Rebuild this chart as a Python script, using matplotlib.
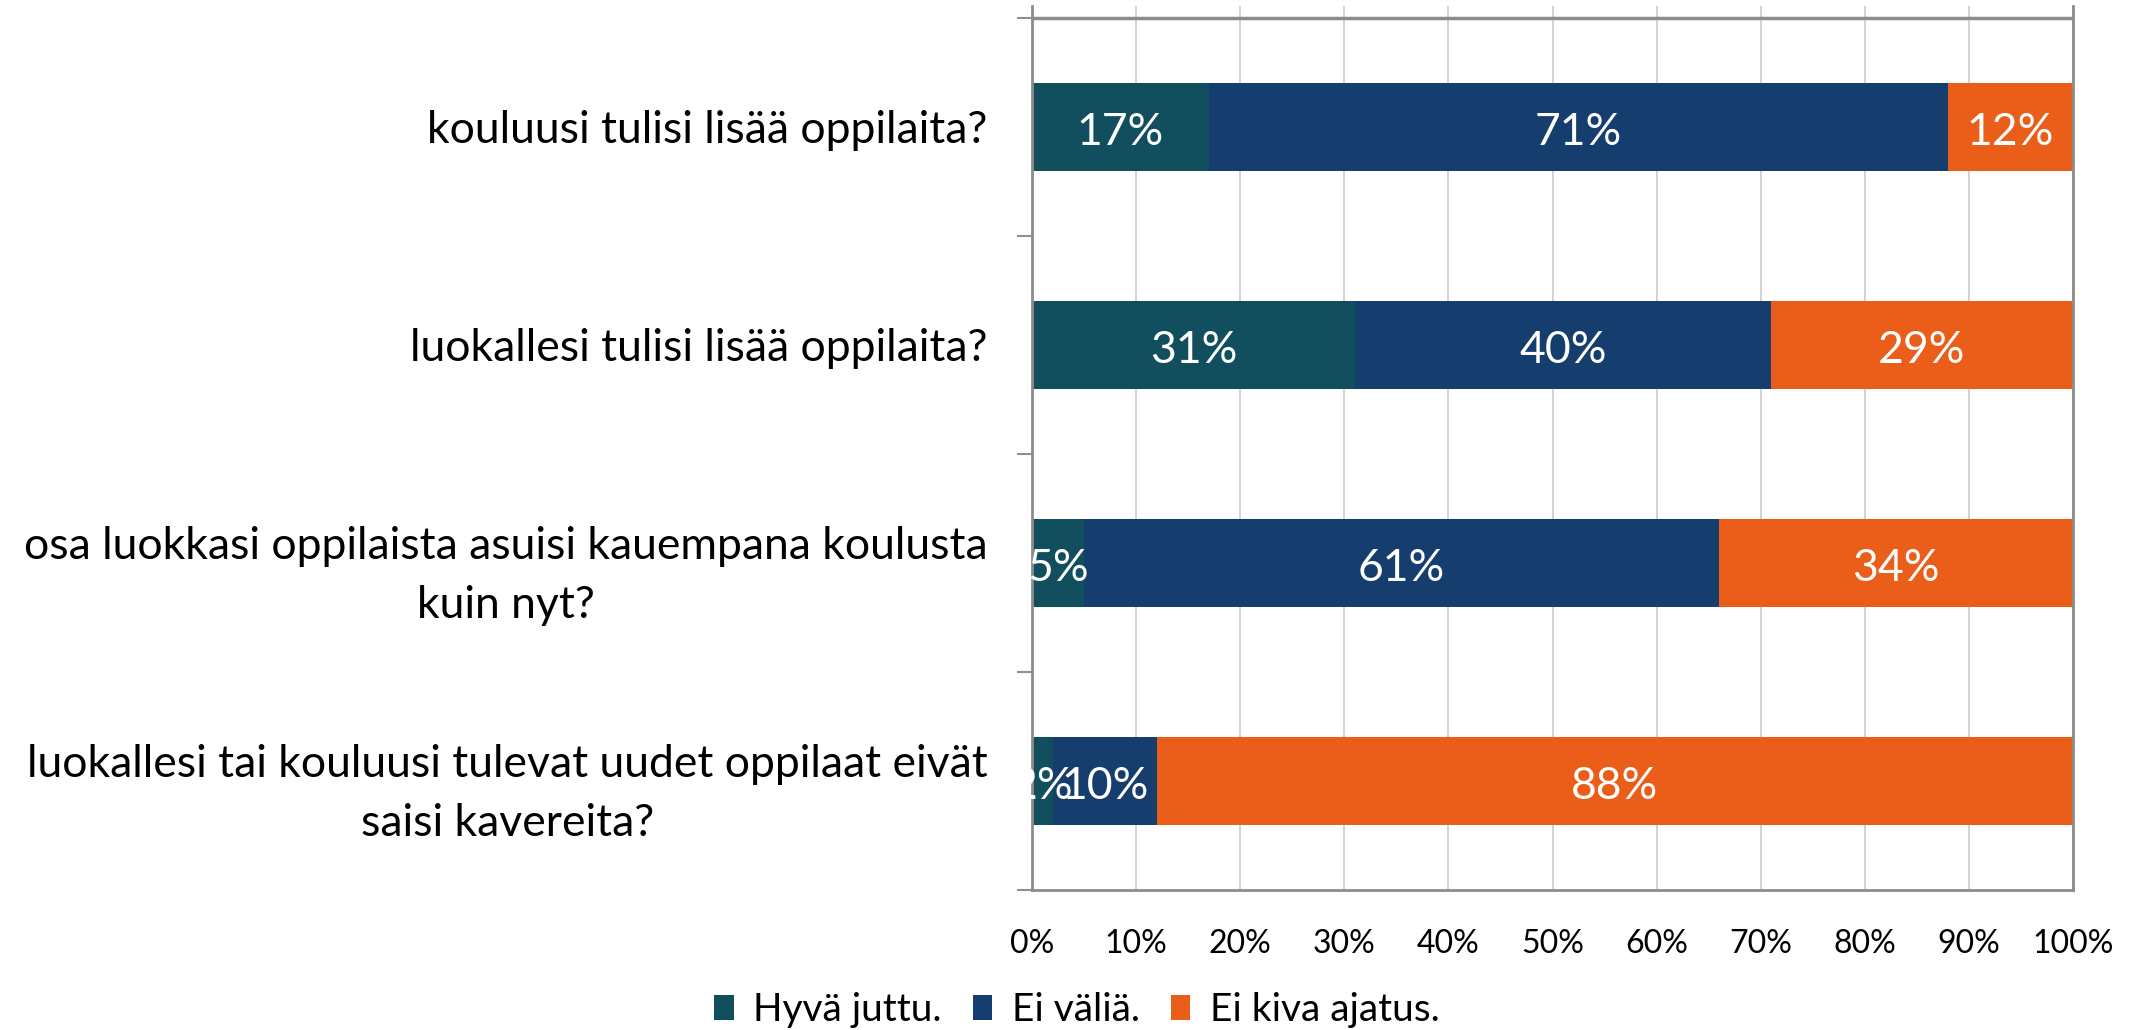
import matplotlib
matplotlib.use("Agg")
import matplotlib.pyplot as plt
import numpy as np

categories = [
    "kouluusi tulisi lisää oppilaita?",
    "luokallesi tulisi lisää oppilaita?",
    "osa luokkasi oppilaista asuisi kauempana koulusta\nkuin nyt?",
    "luokallesi tai kouluusi tulevat uudet oppilaat eivät\nsaisi kavereita?",
]
series_names = ["Hyvä juttu.", "Ei väliä.", "Ei kiva ajatus."]
hyva = [17, 31, 5, 2]
ei_valia = [71, 40, 61, 10]
ei_kiva = [12, 29, 34, 88]
xticks = [0, 10, 20, 30, 40, 50, 60, 70, 80, 90, 100]

colors = ["#124F5E", "#153E6E", "#EB5E1A"]
plt.rcParams['font.family'] = ['Lato', 'DejaVu Sans']

W, H = 2137, 1030
fig = plt.figure(figsize=(W / 100, H / 100), dpi=100)
left, right, top_px, bottom_px = 1032, 2073, 6, 890
ax = fig.add_axes([left / W, 1 - bottom_px / H, (right - left) / W, (bottom_px - top_px) / H])

y = np.arange(len(categories))
data = [hyva, ei_valia, ei_kiva]
lefts = np.zeros(len(categories))
for name, vals, c in zip(series_names, data, colors):
    vals = np.array(vals, dtype=float)
    ax.barh(y, vals, left=lefts, height=0.4, color=c, label=name, zorder=2)
    for yi, l, v in zip(y, lefts, vals):
        ax.text(l + v / 2, yi + 0.025, f"{int(v)}%", ha="center", va="center",
                color="white", fontsize=32, zorder=3)
    lefts += vals

ax.set_xlim(0, 100)
ax.set_ylim(3.5, -0.555)
ax.set_xticks(xticks)
ax.set_xticklabels([f"{t}%" for t in xticks], fontsize=23)
ax.set_yticks(y)
ax.set_yticklabels(categories, fontsize=32, multialignment="center", linespacing=1.55)
ax.tick_params(axis="y", length=0, pad=32)
ax.tick_params(axis="x", length=0, pad=28)
ax.set_yticks(np.arange(-0.5, 4.0, 1.0), minor=True)
ax.tick_params(axis="y", which="minor", length=11, width=1.5, color="#909090", direction="out")
ax.xaxis.grid(True, color="#D0D0D0", linewidth=1.3, zorder=0)
ax.set_axisbelow(True)
for s in ["left", "bottom", "right"]:
    ax.spines[s].set_color("#8C8C8C")
    ax.spines[s].set_linewidth(2)
ax.spines["top"].set_visible(False)
ax.axhline(-0.5, color="#8C8C8C", linewidth=2.5, zorder=1)

fig.legend(loc="center", bbox_to_anchor=(0.504, 0.019), ncol=3, frameon=False,
           fontsize=28, handlelength=0.5, handleheight=0.6, handletextpad=0.5,
           columnspacing=0.8)

fig.savefig("out.png", dpi=100)
